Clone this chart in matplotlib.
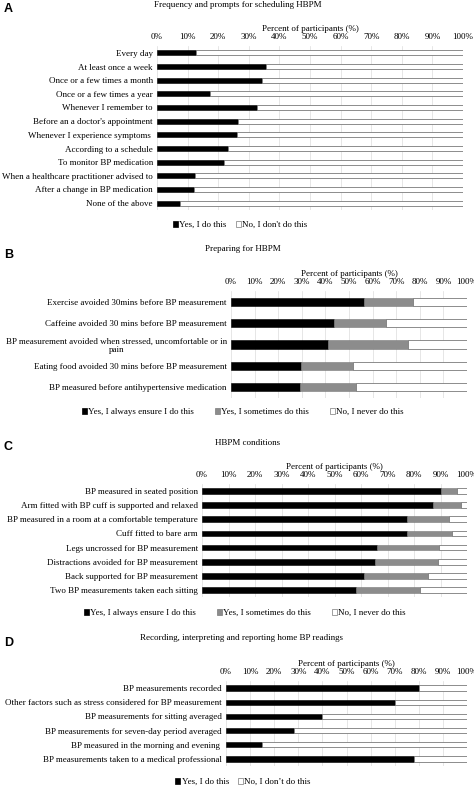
import matplotlib
matplotlib.use("Agg")
import matplotlib.pyplot as plt
from matplotlib.patches import Patch
import numpy as np

plt.rcParams['font.family'] = ['Liberation Serif', 'DejaVu Serif']

# ---------------- Data ----------------
a_title = "Frequency and prompts for scheduling HBPM"
a_cats = ["Every day", "At least once a week", "Once or a few times a month",
          "Once or a few times a year", "Whenever I remember to",
          "Before an a doctor's appointment", "Whenever I experience symptoms ",
          "According to a schedule", "To monitor BP medication",
          "When a healthcare practitioner advised to",
          "After a change in BP medication", "None of the above"]
a_yes = [12.7, 35.7, 34.4, 17.4, 32.7, 26.6, 26.3, 23.3, 21.9, 12.5, 12.2, 7.4]
a_legend = ["Yes, I do this", "No, I don't do this"]

b_title = "Preparing for HBPM"
b_cats = ["Exercise avoided 30mins before BP measurement",
          "Caffeine avoided 30 mins before BP measurement",
          "BP measurement avoided when stressed, uncomfortable or in\npain",
          "Eating food avoided 30 mins before BP measurement",
          "BP measured before antihypertensive medication"]
b_always = [56.4, 43.6, 41.2, 29.6, 29.1]
b_sometimes = [20.7, 22.2, 34.0, 22.2, 23.9]

c_title = "HBPM conditions"
c_cats = ["BP measured in seated position",
          "Arm fitted with BP cuff is supported and relaxed",
          "BP measured in a room at a comfortable temperature",
          "Cuff fitted to bare arm",
          "Legs uncrossed for BP measurement",
          "Distractions avoided for BP measurement",
          "Back supported for BP measurement",
          "Two BP measurements taken each sitting"]
c_always = [90.2, 87.3, 77.3, 77.3, 66.1, 65.2, 61.2, 58.2]
c_sometimes = [6.0, 10.6, 15.9, 17.0, 23.3, 23.8, 24.1, 23.9]
bc_legend = ["Yes, I always ensure I do this", "Yes, I sometimes do this", "No, I never do this"]

d_title = "Recording, interpreting and reporting home BP readings"
d_cats = ["BP measurements recorded",
          "Other factors such as stress considered for BP measurement",
          "BP measurements for sitting averaged",
          "BP measurements for seven-day period averaged",
          "BP measured in the morning and evening ",
          "BP measurements taken to a medical professional"]
d_yes = [79.9, 70.0, 40.0, 28.1, 15.1, 77.9]
d_legend = ["Yes, I do this", "No, I don\u2019t do this"]

ticks = list(range(0, 101, 10))
tick_labels = [f"{t}%" for t in ticks]
xlabel = "Percent of participants (%)"

# ---------------- Layout ----------------
W, H = 474, 786
DPI = 100
fig = plt.figure(figsize=(W / DPI, H / DPI), dpi=DPI)
FS = 6.5
BLACK = "#000000"
GRAY = "#8c8c8c"
EDGE_GRAY = "#7a7a7a"


def add_ax(left, right, top, bottom):
    return fig.add_axes([left / W, 1 - bottom / H, (right - left) / W, (bottom - top) / H])


def style(ax, cats):
    n = len(cats)
    ax.set_xlim(0, 100)
    ax.set_ylim(n - 0.5, -0.5)
    ax.set_yticks(range(n))
    labels = ax.set_yticklabels(cats, fontsize=FS, linespacing=1.1)
    for lab in labels:
        if "\n" in lab.get_text():
            lab.set_multialignment('center')
    ax.xaxis.tick_top()
    ax.xaxis.set_label_position('top')
    ax.set_xticks(ticks)
    ax.set_xticklabels(tick_labels, fontsize=FS)
    ax.set_xlabel(xlabel, fontsize=FS, labelpad=1.5)
    ax.tick_params(axis='x', length=0, pad=3.5)
    ax.tick_params(axis='y', length=0, pad=3)
    for s in ax.spines.values():
        s.set_visible(False)
    ax.grid(axis='x', color='#dcdcdc', linewidth=0.5)
    ax.set_axisbelow(True)


def two_series(ax, cats, yes):
    y = np.arange(len(cats))
    yes = np.array(yes)
    no = 100 - yes
    ax.barh(y, yes, height=0.38, color=BLACK, edgecolor=BLACK, linewidth=0.4)
    ax.barh(y, no, left=yes, height=0.38, color='white', edgecolor=EDGE_GRAY, linewidth=0.6)
    style(ax, cats)


def three_series(ax, cats, always, sometimes, h):
    y = np.arange(len(cats))
    always = np.array(always)
    sometimes = np.array(sometimes)
    never = 100 - always - sometimes
    ax.barh(y, always, height=h, color=BLACK, edgecolor=BLACK, linewidth=0.4)
    ax.barh(y, sometimes, left=always, height=h, color=GRAY, edgecolor=EDGE_GRAY, linewidth=0.4)
    ax.barh(y, never, left=always + sometimes, height=h, color='white', edgecolor=EDGE_GRAY, linewidth=0.6)
    style(ax, cats)


def legend(labels, colors, cx, cy, spacing):
    handles = [Patch(facecolor=c, edgecolor=(BLACK if c == BLACK else EDGE_GRAY), linewidth=0.5)
               for c in colors]
    fig.legend(handles, labels, loc='center', bbox_to_anchor=(cx / W, 1 - cy / H),
               ncol=len(labels), frameon=False, fontsize=FS,
               handlelength=0.55, handleheight=0.55, handletextpad=0.15,
               columnspacing=spacing, borderpad=0)


def panel_text(letter, title, tx, ty, ly):
    fig.text(4 / W, 1 - ly / H, letter, fontsize=9, fontweight='bold',
             family='Liberation Sans', va='center', ha='left')
    fig.text(tx / W, 1 - ty / H, title, fontsize=FS, ha='center', va='center')


# Panel A
axA = add_ax(157, 463, 46, 210)
two_series(axA, a_cats, a_yes)
panel_text("A", a_title, 238, 5, 9)
legend(a_legend, [BLACK, 'white'], 240, 225, 1.0)

# Panel B
axB = add_ax(231, 467, 291, 398)
three_series(axB, b_cats, b_always, b_sometimes, 0.38)
panel_text("B", b_title, 243, 249, 255)
legend(bc_legend, [BLACK, GRAY, 'white'], 243, 412, 2.3)

# Panel C
axC = add_ax(202, 467, 484, 597)
three_series(axC, c_cats, c_always, c_sometimes, 0.4)
panel_text("C", c_title, 248, 443, 447)
legend(bc_legend, [BLACK, GRAY, 'white'], 245, 613, 2.3)

# Panel D
axD = add_ax(226, 467, 681, 766)
two_series(axD, d_cats, d_yes)
panel_text("D", d_title, 242, 638, 643)
legend(d_legend, [BLACK, 'white'], 243, 782, 1.0)

fig.savefig("out.png", dpi=DPI, facecolor='white')
